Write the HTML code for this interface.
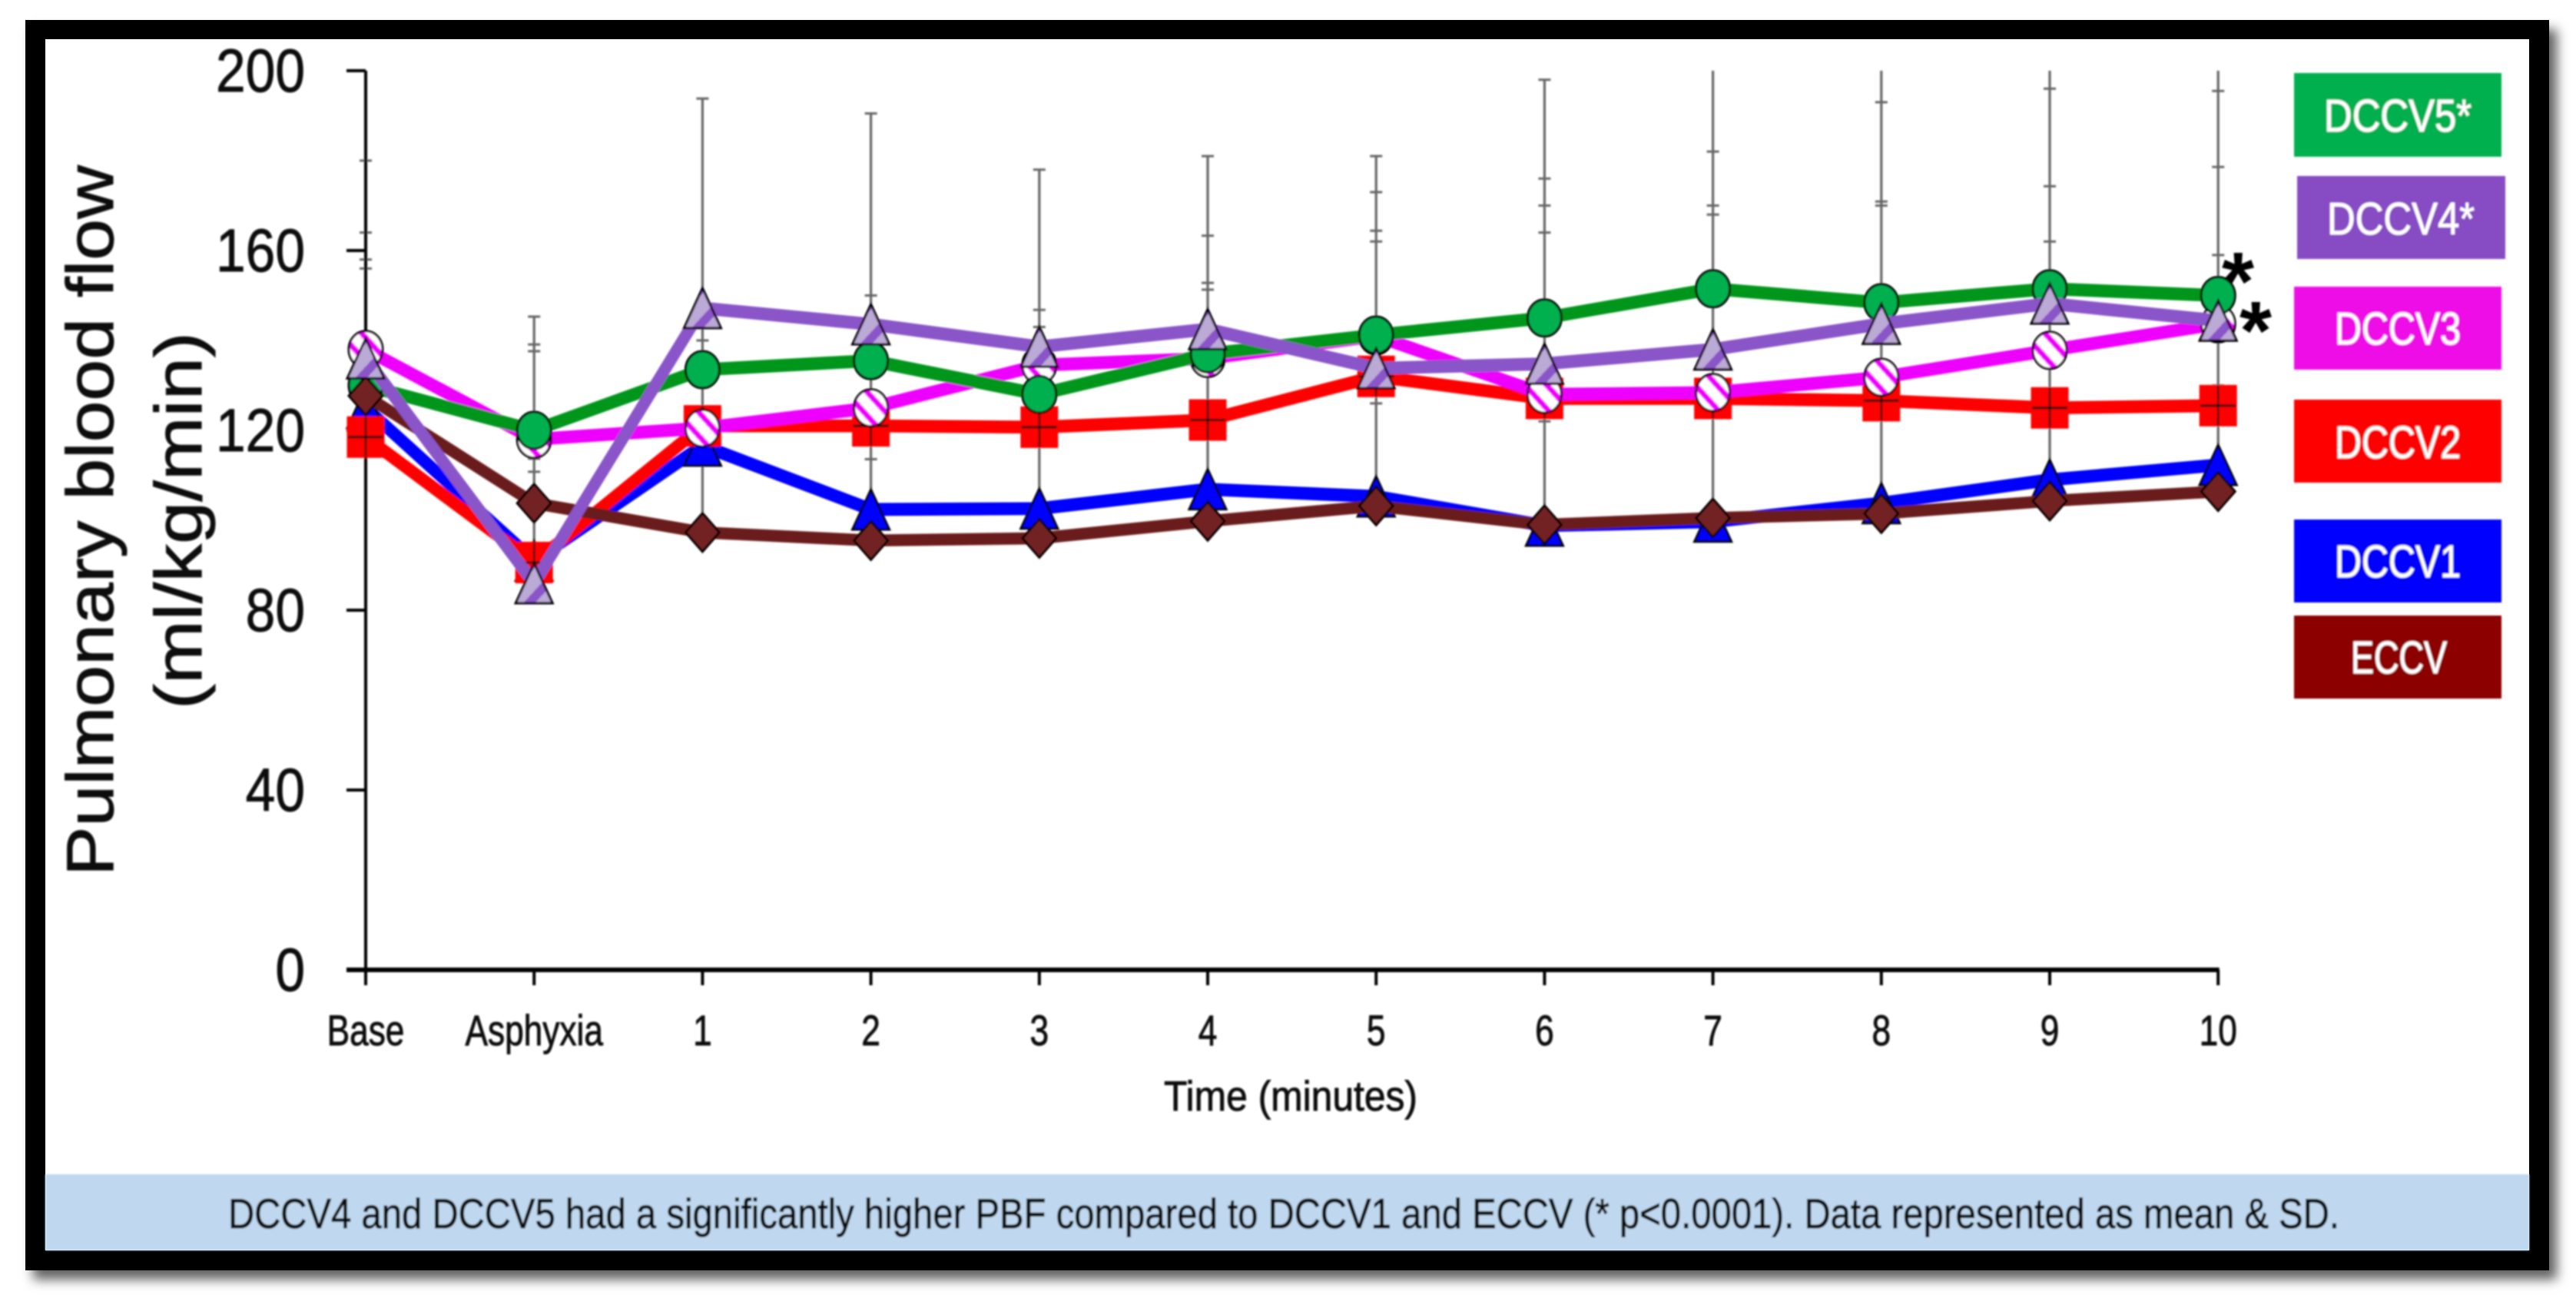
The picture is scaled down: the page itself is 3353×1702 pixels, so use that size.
<!DOCTYPE html>
<html lang="en">
<head>
<meta charset="utf-8">
<title>Pulmonary blood flow chart</title>
<style>
  html, body { margin: 0; padding: 0; background: #fff; }
  body { width: 3353px; height: 1702px; position: relative; overflow: hidden; font-family: "Liberation Sans", sans-serif; }
  #frame { position: absolute; left: 33px; top: 26px; width: 3285px; height: 1627px; background: #000; box-shadow: 10px 12px 14px rgba(0,0,0,.62); }
  #panel { position: absolute; left: 59px; top: 51px; width: 3233px; height: 1576px; background: #fff; }
  #chart { position: absolute; left: 0; top: 0; }
  text { font-family: "Liberation Sans", sans-serif; }
  .dark-text { stroke: #111; stroke-width: 0.9px; }
  .light-text { stroke: #fff; stroke-width: 0.7px; }
</style>
</head>
<body>
<div id="frame"></div>
<div id="panel"></div>
<svg id="chart" xmlns="http://www.w3.org/2000/svg" width="3353" height="1702" viewBox="0 0 3353 1702">
  <defs>
    <filter id="soft" filterUnits="userSpaceOnUse" x="0" y="0" width="3353" height="1702"><feGaussianBlur stdDeviation="1"/></filter>
    <clipPath id="plotClip"><rect x="400" y="92" width="2600" height="1200"/></clipPath>
    <linearGradient id="triFill" x1="0" y1="0" x2="1" y2="1">
      <stop offset="0" stop-color="#bba9d6"/><stop offset="0.17" stop-color="#bba9d6"/>
      <stop offset="0.17" stop-color="#8a55c8"/><stop offset="0.32" stop-color="#8a55c8"/>
      <stop offset="0.32" stop-color="#bba9d6"/><stop offset="0.6" stop-color="#bba9d6"/>
      <stop offset="0.6" stop-color="#8a55c8"/><stop offset="0.76" stop-color="#8a55c8"/>
      <stop offset="0.76" stop-color="#bba9d6"/><stop offset="1" stop-color="#bba9d6"/>
    </linearGradient>
    <linearGradient id="stripeFill" x1="0" y1="1" x2="1" y2="0">
      <stop offset="0" stop-color="#fff"/><stop offset="0.28" stop-color="#fff"/>
      <stop offset="0.28" stop-color="#ee00ff"/><stop offset="0.4" stop-color="#ee00ff"/>
      <stop offset="0.4" stop-color="#fff"/><stop offset="0.6" stop-color="#fff"/>
      <stop offset="0.6" stop-color="#ee00ff"/><stop offset="0.72" stop-color="#ee00ff"/>
      <stop offset="0.72" stop-color="#fff"/><stop offset="1" stop-color="#fff"/>
    </linearGradient>
  </defs>
  <g filter="url(#soft)">
    <rect x="59" y="1528" width="3233" height="99" fill="#bfd8ef"/>
    <text class="dark-text" x="297" y="1598" font-size="55" fill="#111" textLength="2748" lengthAdjust="spacingAndGlyphs">DCCV4 and DCCV5 had a significantly higher PBF compared to DCCV1 and ECCV (* p&lt;0.0001). Data represented as mean &amp; SD.</text>

    <text class="dark-text" transform="translate(147,1140) rotate(-90)" font-size="86" fill="#111" textLength="925" lengthAdjust="spacingAndGlyphs">Pulmonary blood flow</text>
    <text class="dark-text" transform="translate(262,923) rotate(-90)" font-size="86" fill="#111" textLength="491" lengthAdjust="spacingAndGlyphs">(ml/kg/min)</text>
    <text class="dark-text" x="1515" y="1445" font-size="55" fill="#111" textLength="330" lengthAdjust="spacingAndGlyphs">Time (minutes)</text>

    <g>
      <g><rect x="2986" y="95" width="270" height="109" fill="#00b050"/><text class="light-text" x="3025" y="171" font-size="59" fill="#fff" textLength="192" lengthAdjust="spacingAndGlyphs">DCCV5*</text></g>
      <g><rect x="2990" y="229" width="271" height="108" fill="#874bc4"/><text class="light-text" x="3029" y="305" font-size="59" fill="#fff" textLength="192" lengthAdjust="spacingAndGlyphs">DCCV4*</text></g>
      <g><rect x="2986" y="373" width="270" height="108" fill="#ee10e6"/><text class="light-text" x="3039" y="448" font-size="59" fill="#fff" textLength="164" lengthAdjust="spacingAndGlyphs">DCCV3</text></g>
      <g><rect x="2986" y="520" width="270" height="108" fill="#ff0000"/><text class="light-text" x="3039" y="596" font-size="59" fill="#fff" textLength="164" lengthAdjust="spacingAndGlyphs">DCCV2</text></g>
      <g><rect x="2986" y="676" width="270" height="108" fill="#0000ff"/><text class="light-text" x="3039" y="751" font-size="59" fill="#fff" textLength="164" lengthAdjust="spacingAndGlyphs">DCCV1</text></g>
      <g><rect x="2986" y="801" width="270" height="108" fill="#8c0000"/><text class="light-text" x="3060" y="876" font-size="59" fill="#fff" textLength="125" lengthAdjust="spacingAndGlyphs">ECCV</text></g>
    </g>

    <g id="errorLayer" clip-path="url(#plotClip)"></g>
    <g id="axisLayer"></g>
    <g id="seriesLayer"></g>

    <text x="2892" y="403" font-size="108" font-weight="700" fill="#000">*</text>
    <text x="2915" y="467" font-size="108" font-weight="700" fill="#000">*</text>
  </g>
</svg>
<script>
// ---- chart data ----
var categories = ['Base','Asphyxia','1','2','3','4','5','6','7','8','9','10'];
var yTickLabels = [0,40,80,120,160,200];
var valuesDccv1 = [125,91,116.6,102.4,102.6,106.9,105.3,98.8,99.7,103.8,109,112.3];
var valuesDccv2 = [118.5,90.6,121,121,120.7,122.3,132,127.1,127.1,126.6,125,125.5];
var valuesDccv3 = [138,118,120.5,125,134.5,136,141,128,128.4,131.8,137.8,143.7];
var valuesDccv5 = [130,120,133.5,135.5,128,137,141.2,145,151.5,148.4,151.5,150];
var valuesEccv  = [127.7,103.8,97.3,95.5,96,99.8,103.2,99,100.5,101.5,104.3,106.4];
var valuesDccv4 = [136,86,147.2,143.6,138.6,142.5,133.8,134.8,138,143.7,148.2,144.4];
// upper / lower error-bar cap values visible at each time point
var errorCaps = [
  [180,164,158,156],
  [145.3,139.1,137.6,113.7,110.8],
  [193.8,140],
  [190.5,150,113.6],
  [178,146.8,143],
  [181,163.3,152.8,151.3],
  [181,173,164.4,162,126],
  [198,176,170,164,122],
  [205,182,170,168],
  [205,193,170.9,170],
  [205,196,174.3,162],
  [205,195.5,178.6,159,130]
];

// ---- axis functions ----
var SVGNS = 'http://www.w3.org/2000/svg';
var LINE_STRETCH = 1.12; // the figure is slightly stretched vertically, thickening near-flat strokes
function xAt(i) { return 476 + i * 219.2; }
function yAt(v) { return 1262 - v * 5.85; }
function make(tag, attrs, parent) {
  var e = document.createElementNS(SVGNS, tag);
  for (var k in attrs) e.setAttribute(k, attrs[k]);
  parent.appendChild(e);
  return e;
}

// ---- axes ----
var axisLayer = document.getElementById('axisLayer');
var yAxis = make('line', {x1:476, y1:yAt(200), x2:476, y2:1282, stroke:'#000', 'stroke-width':4}, axisLayer);


var xAxis = make('line', {x1:451, y1:1262, x2:xAt(11)+1.5, y2:1262, stroke:'#000', 'stroke-width':6}, axisLayer);



yTickLabels.forEach(function (t) {
  var mark = make('line', {x1:451, y1:yAt(t), x2:476, y2:yAt(t), stroke:'#000', 'stroke-width':4}, axisLayer);
  
  
  var label = make('text', {transform:'translate(397,' + (yAt(t) + 27) + ') scale(0.88,1)', 'font-size':79, fill:'#111', 'text-anchor':'end', 'class':'dark-text'}, axisLayer);
  label.textContent = t;
  
  
});

categories.forEach(function (c, i) {
  var mark = make('line', {x1:xAt(i), y1:1262, x2:xAt(i), y2:1282, stroke:'#000', 'stroke-width':4}, axisLayer);
  
  
  var label = make('text', {transform:'translate(' + xAt(i) + ',1360) scale(0.79,1)', 'font-size':56, fill:'#111', 'text-anchor':'middle', 'class':'dark-text'}, axisLayer);
  label.textContent = c;
  
  
});

// ---- error bars ----
var errorLayer = document.getElementById('errorLayer');
var allSeries = [valuesDccv1, valuesDccv2, valuesDccv3, valuesDccv5, valuesEccv, valuesDccv4];
errorCaps.forEach(function (caps, i) {
  var lowest = Math.min.apply(null, allSeries.map(function (s) { return s[i]; }));
  var highest = Math.max.apply(null, caps);
  var stem = make('line', {x1:xAt(i), y1:yAt(highest), x2:xAt(i), y2:yAt(lowest), stroke:'#666', 'stroke-width':3.2}, errorLayer);
  
  
  caps.forEach(function (v) {
    var cap = make('line', {x1:xAt(i) - 8, y1:yAt(v), x2:xAt(i) + 8, y2:yAt(v), stroke:'#666', 'stroke-width':3}, errorLayer);
    
    
  });
});

// ---- series ----
var seriesLayer = document.getElementById('seriesLayer');
var BLACK = '#000';
function polyPath(values) {
  return values.map(function (v, i) { return (i ? 'L' : 'M') + xAt(i) + ' ' + (yAt(v) / LINE_STRETCH); }).join(' ');
}
function triangle(g, cx, cy, fill) {
  return make('polygon', {points:(cx) + ',' + (cy - 26) + ' ' + (cx + 24) + ',' + (cy + 26) + ' ' + (cx - 24) + ',' + (cy + 26), fill:fill, stroke:BLACK, 'stroke-width':3, 'stroke-linejoin':'miter'}, g);
}
function drawSeries(name, values, lineColor, lineWidth, drawMarker) {
  var g = make('g', {}, seriesLayer);
  
  
  var line = make('path', {d:polyPath(values), transform:'scale(1,' + LINE_STRETCH + ')', fill:'none', stroke:lineColor, 'stroke-width':lineWidth, 'stroke-linejoin':'round'}, g);
  
  
  values.forEach(function (v, i) {
    var m = drawMarker(g, xAt(i), yAt(v));
    
    
  });
}
drawSeries('dccv1', valuesDccv1, '#0000ff', 15, function (g, x, y) {
  return triangle(g, x, y, '#0000ff');
});
drawSeries('dccv2', valuesDccv2, '#ff0000', 15, function (g, x, y) {
  var m = make('g', {}, g);
  make('rect', {x:x - 24.5, y:y - 27, width:49, height:54, fill:'#ff0000'}, m);
  make('line', {x1:x - 23, y1:y, x2:x + 23, y2:y, stroke:'#111', 'stroke-width':3}, m);
  make('line', {x1:x, y1:y - 26, x2:x, y2:y + 26, stroke:'#111', 'stroke-width':2.5}, m);
  return m;
});
drawSeries('dccv3', valuesDccv3, '#ee00ff', 15, function (g, x, y) {
  return make('ellipse', {cx:x, cy:y, rx:22, ry:24, fill:'url(#stripeFill)', stroke:BLACK, 'stroke-width':3}, g);
});
drawSeries('dccv5', valuesDccv5, '#00961e', 15, function (g, x, y) {
  return make('ellipse', {cx:x, cy:y, rx:22, ry:24, fill:'#00b050', stroke:BLACK, 'stroke-width':3}, g);
});
drawSeries('eccv', valuesEccv, '#6b1e1e', 14, function (g, x, y) {
  return make('polygon', {points:x + ',' + (y - 25) + ' ' + (x + 22) + ',' + y + ' ' + x + ',' + (y + 25) + ' ' + (x - 22) + ',' + y, fill:'#722222', stroke:BLACK, 'stroke-width':3}, g);
});
drawSeries('dccv4', valuesDccv4, '#8a55c8', 15, function (g, x, y) {
  return triangle(g, x, y, 'url(#triFill)');
});
</script>
</body>
</html>
